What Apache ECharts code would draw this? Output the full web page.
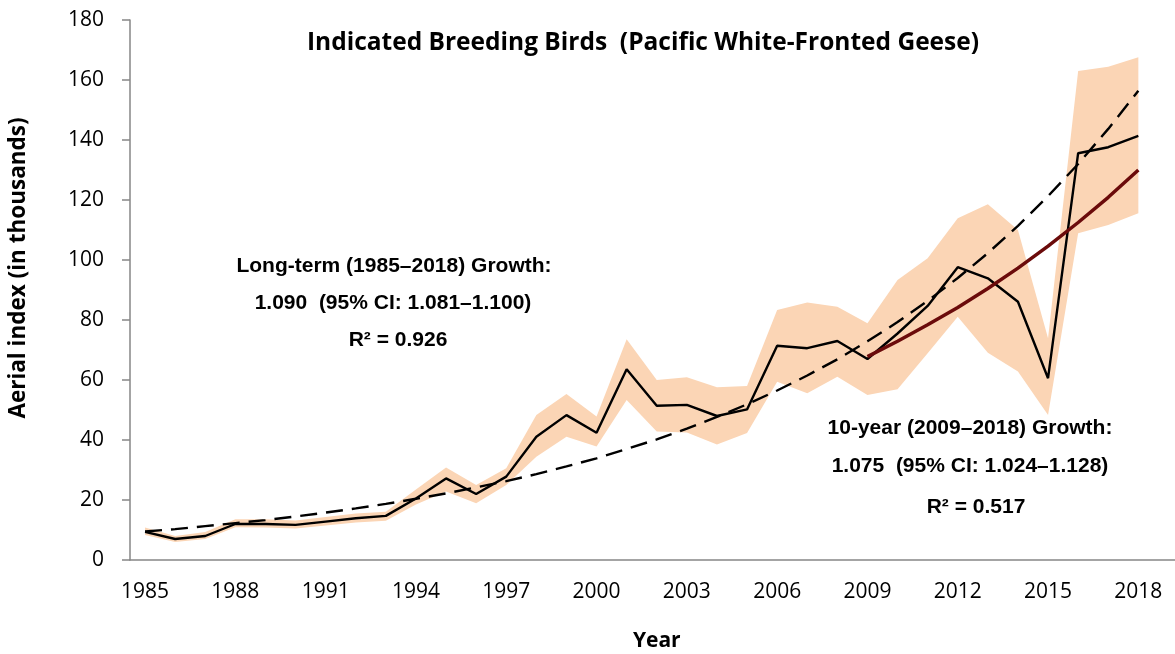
<!DOCTYPE html>
<html>
<head>
<meta charset="utf-8">
<script src="https://cdn.jsdelivr.net/npm/echarts@6/dist/echarts.min.js"></script>
<style>
  html, body { margin: 0; padding: 0; background: #fff; }
  #chart { width: 1175px; height: 654px; }
</style>
</head>
<body>
<div id="chart"></div>
<script>
(function () {
    // years on the category axis; 2019 is an empty slot so the axis runs past 2018
    var years = ['1985', '1986', '1987', '1988', '1989', '1990', '1991', '1992', '1993', '1994',
        '1995', '1996', '1997', '1998', '1999', '2000', '2001', '2002', '2003', '2004',
        '2005', '2006', '2007', '2008', '2009', '2010', '2011', '2012', '2013', '2014',
        '2015', '2016', '2017', '2018', '2019'];

    // aerial index (thousands)
    var index = [9.4, 7.0, 8.0, 12.0, 12.0, 11.7, 12.8, 13.9, 14.7, 20.5,
        27.2, 22.0, 27.8, 41.1, 48.3, 42.4, 63.6, 51.4, 51.7, 48.0,
        50.2, 71.4, 70.6, 73.0, 67.0, 75.5, 84.7, 97.6, 93.9, 86.1,
        60.6, 135.6, 137.6, 141.4];

    // 95% CI band
    var lower = [8.3, 6.0, 7.0, 10.9, 10.8, 10.5, 11.5, 12.5, 13.1, 18.5,
        22.8, 18.9, 25.0, 34.4, 41.1, 37.8, 53.3, 42.8, 42.5, 38.5,
        42.3, 59.4, 55.6, 61.1, 55.0, 56.9, 68.9, 81.1, 69.1, 62.8,
        48.3, 108.9, 111.7, 115.6];
    var upper = [10.8, 8.0, 9.3, 13.6, 13.6, 13.2, 14.3, 15.5, 16.1, 23.5,
        30.8, 25.0, 30.6, 48.3, 55.3, 47.8, 73.6, 60.0, 60.9, 57.6,
        58.0, 83.3, 85.8, 84.4, 78.9, 93.3, 100.6, 113.9, 118.6, 110.0,
        73.9, 163.0, 164.4, 167.6];

    // long-term trend (dashed)
    var longTrend = [9.5, 10.3, 11.3, 12.3, 13.3, 14.5, 15.8, 17.2, 18.7, 20.4,
        22.2, 24.2, 26.3, 28.6, 31.2, 33.9, 37.0, 40.2, 43.8, 47.7,
        51.9, 56.5, 61.5, 66.9, 72.9, 79.3, 86.4, 94.0, 102.3, 111.4,
        121.3, 132.0, 143.7, 156.4];

    // 10-year trend (2009-2018)
    var shortTrend = [null, null, null, null, null, null, null, null, null, null,
        null, null, null, null, null, null, null, null, null, null,
        null, null, null, null, 67.8, 72.9, 78.4, 84.2, 90.5, 97.3,
        104.6, 112.5, 120.9, 130.0];

    var yTicks = [0, 20, 40, 60, 80, 100, 120, 140, 160, 180];

    var bandWidth = upper.map(function (u, i) { return +(u - lower[i]).toFixed(1); });

    var chart = echarts.init(document.getElementById('chart'), null, { renderer: 'canvas' });

    var axisGrey = '#868686';
    var labelFont = '"Open Sans", Lato, sans-serif';
    var noteFont = '"Liberation Sans", Arial, sans-serif';

    function note(x, y, text) {
        return {
            type: 'text', x: x, y: y,
            style: {
                text: text, fill: '#000', align: 'center', verticalAlign: 'middle',
                fontFamily: noteFont, fontWeight: 'bold', fontSize: 21
            }
        };
    }

    chart.setOption({
        animation: false,
        backgroundColor: '#fff',
        title: {
            text: 'Indicated Breeding Birds  (Pacific White-Fronted Geese)',
            left: 638, top: 26, textAlign: 'center',
            textStyle: { fontFamily: labelFont, fontWeight: 'bold', fontSize: 24.5, color: '#000' }
        },
        grid: { left: 130, top: 20, height: 540, width: 1053.5, outerBoundsMode: 'none', containLabel: false },
        xAxis: {
            type: 'category',
            data: years,
            boundaryGap: true,
            name: 'Year',
            nameLocation: 'middle',
            nameGap: 71,
            nameTextStyle: { fontFamily: labelFont, fontWeight: 'bold', fontSize: 21, color: '#000' },
            axisLine: { lineStyle: { color: axisGrey, width: 1.5 } },
            axisTick: { interval: 2, length: 7, lineStyle: { color: axisGrey, width: 1.5 } },
            axisLabel: { interval: 2, margin: 22, fontFamily: labelFont, fontSize: 21, color: '#000' },
            splitLine: { show: false }
        },
        yAxis: {
            type: 'value',
            min: yTicks[0], max: yTicks[yTicks.length - 1], interval: 20,
            axisLine: { show: true, lineStyle: { color: axisGrey, width: 1.5 } },
            axisTick: { show: true, length: 8, lineStyle: { color: axisGrey, width: 1.5 } },
            axisLabel: { margin: 26, fontFamily: labelFont, fontSize: 21, color: '#000' },
            splitLine: { show: false }
        },
        series: [
            {
                name: 'lower', type: 'line', stack: 'ci', data: lower,
                symbol: 'none', silent: true,
                lineStyle: { opacity: 0 }, areaStyle: { opacity: 0 }, z: 1
            },
            {
                name: 'ci', type: 'line', stack: 'ci', data: bandWidth,
                symbol: 'none', silent: true,
                lineStyle: { opacity: 0 }, areaStyle: { color: '#FBD5B5', opacity: 1 }, z: 1
            },
            {
                name: 'index', type: 'line', data: index, symbol: 'none',
                lineStyle: { color: '#000', width: 2.4 }, z: 3
            },
            {
                name: 'long-term', type: 'line', data: longTrend, symbol: 'none',
                lineStyle: { color: '#000', width: 2.4, type: [17, 9] }, z: 4
            },
            {
                name: '10-year', type: 'line', data: shortTrend, symbol: 'none',
                lineStyle: { color: '#6B0B0B', width: 3.5 }, z: 5
            }
        ],
        graphic: [
            {
                type: 'text', x: 19, y: 268, rotation: Math.PI / 2,
                style: {
                    text: 'Aerial index (in thousands)', fill: '#000',
                    align: 'center', verticalAlign: 'middle',
                    fontFamily: labelFont, fontWeight: 'bold', fontSize: 22.5
                }
            },
            note(394, 266, 'Long-term (1985\u20132018) Growth:'),
            note(393, 303, '1.090  (95% CI: 1.081\u20131.100)'),
            note(398, 340, 'R\u00b2 = 0.926'),
            note(970, 428, '10-year (2009\u20132018) Growth:'),
            note(970, 466, '1.075  (95% CI: 1.024\u20131.128)'),
            note(976, 507, 'R\u00b2 = 0.517')
        ]
    });
})();
</script>
</body>
</html>
